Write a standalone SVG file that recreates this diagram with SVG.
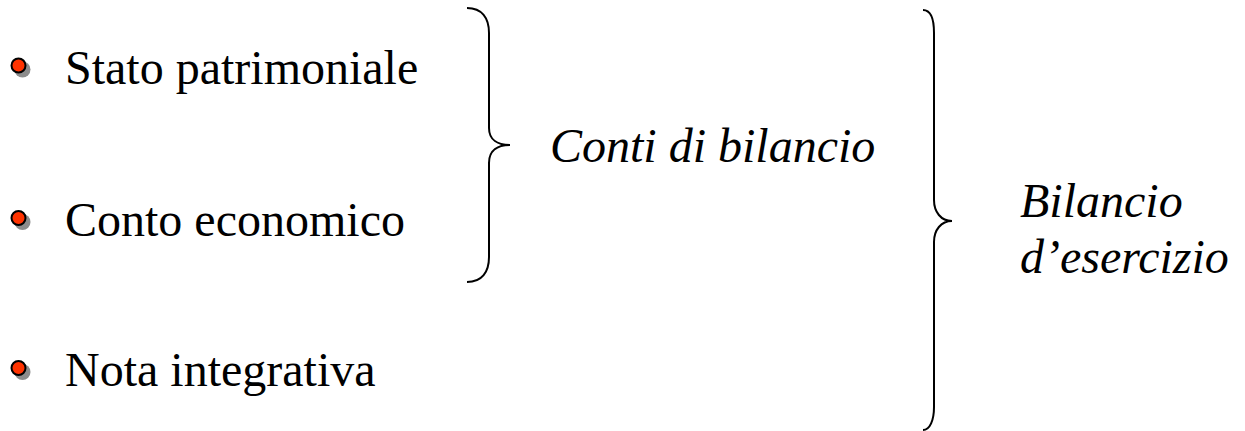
<svg xmlns="http://www.w3.org/2000/svg" width="1245" height="431" viewBox="0 0 1245 431">
<style>
.t{font-family:'Liberation Serif','Times New Roman',Tinos,'DejaVu Serif',serif;font-size:48px;fill:#000}
.i{font-style:italic}
.br{fill:none;stroke:#000;stroke-width:2}
.sh{fill:#8c8c8c}
.bl{fill:#ff3300;stroke:#000;stroke-width:2}
</style>
<rect width="1245" height="431" fill="#fff"/>
<g id="stato">
<circle class="sh" cx="22.5" cy="69.5" r="8"/>
<circle class="bl" cx="18.5" cy="65.5" r="7"/>
<text class="t" font-family="Liberation Serif, serif" x="65" y="84">Stato patrimoniale</text>
</g>
<g id="conto">
<circle class="sh" cx="22.5" cy="222" r="8"/>
<circle class="bl" cx="18.5" cy="218" r="7"/>
<text class="t" font-family="Liberation Serif, serif" x="65" y="236">Conto economico</text>
</g>
<g id="nota">
<circle class="sh" cx="22.5" cy="372" r="8"/>
<circle class="bl" cx="18.5" cy="368" r="7"/>
<text class="t" font-family="Liberation Serif, serif" x="65" y="386">Nota integrativa</text>
</g>
<g id="connectors">
<path class="br" d="M467,8 C482,8 489,18 489,33 L489,128 C489,140 498,145 510,145 C498,145 489,150 489,163 L489,257 C489,272 482,282 467,282"/>
<path class="br" d="M923,10 C930,10 934,18 934,33 L934,200 C934,212 941,221 952,221 C941,221 934,230 934,242 L934,407 C934,420 930,430 923,430"/>
</g>
<g id="conti">
<text class="t i" font-family="Liberation Serif, serif" x="550" y="162">Conti di bilancio</text>
</g>
<g id="bilancio">
<text class="t i" font-family="Liberation Serif, serif" x="1020" y="217">Bilancio</text>
<text class="t i" font-family="Liberation Serif, serif" x="1020" y="273">d’esercizio</text>
</g>
</svg>
